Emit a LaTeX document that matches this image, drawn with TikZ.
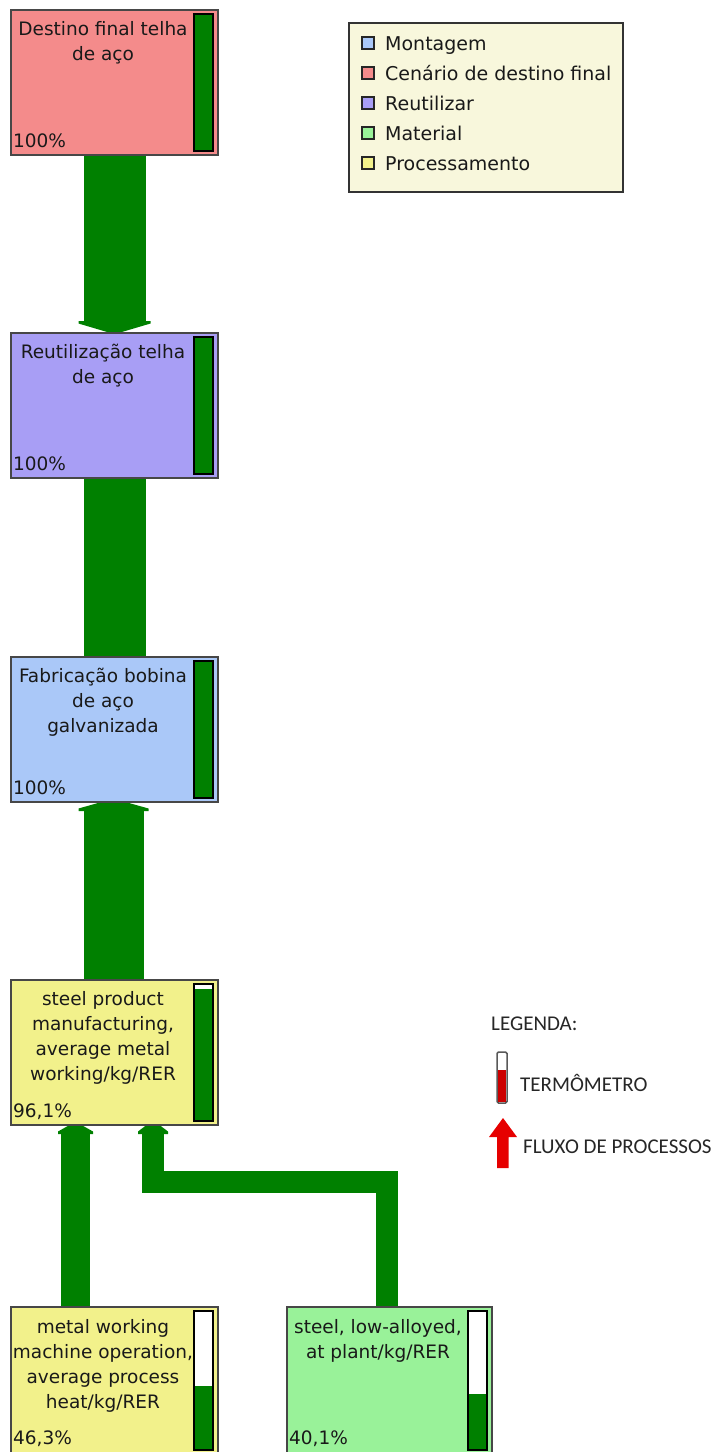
\documentclass[tikz,border=0pt]{standalone}
\usepackage{fontspec}
\setmainfont{DejaVu Sans}
\newfontfamily\notefont{Carlito}
\usetikzlibrary{calc}
\pgfdeclarelayer{paper}
\pgfdeclarelayer{flows}
\pgfsetlayers{paper,flows,main}

\definecolor{flowgreen}{RGB}{0,128,0}
\definecolor{cMont}{RGB}{170,200,248}
\definecolor{cDest}{RGB}{244,139,139}
\definecolor{cReu}{RGB}{168,158,245}
\definecolor{cMat}{RGB}{153,242,153}
\definecolor{cProc}{RGB}{242,241,139}
\definecolor{legendbg}{RGB}{248,247,220}
\definecolor{legred}{RGB}{230,0,0}
\definecolor{thermred}{RGB}{204,0,0}

% process flow arrow head: tip point, direction (1 down / -1 up),
% half width, length, half width of the blunt tip
\newcommand\flowhead[5]{%
  \fill[flowgreen,shift={#1},yscale=#2]
    (-#3,-#4) -- (#3,-#4) -- (#3,-#4+2.5) -- (#5,0) -- (-#5,0) -- (-#3,-#4+2.5) -- cycle;}

% thermometer bar inside a process box: node name, filled fraction
\newcommand\thermo[2]{%
  \path ([xshift=-24pt,yshift=-4pt]#1.north east) coordinate (#1-tt)
        ([xshift=-5pt,yshift=4pt]#1.south east) coordinate (#1-tb);
  \fill[white] (#1-tt) rectangle (#1-tb);
  \fill[flowgreen] (#1-tt |- #1-tb) rectangle ($(#1-tb)!#2!(#1-tb |- #1-tt)$);
  \draw[thermoframe] (#1-tt) rectangle (#1-tb);}

\begin{document}
\begin{tikzpicture}[x=1pt,y=-1pt,
  procbox/.style={draw=black!72, line width=1.6pt, anchor=north west,
    minimum width=207pt, minimum height=145pt, inner sep=0pt, outer sep=0pt},
  ptext/.style={anchor=north, align=center, inner sep=0pt,
    font=\fontsize{18.5}{25}\selectfont, text=black!90},
  pct/.style={anchor=base west, inner sep=0pt,
    font=\fontsize{18.5}{25}\selectfont, text=black!90},
  thermoframe/.style={draw=black, line width=1.6pt},
  flow/.style={draw=flowgreen, line width=#1},
  legbox/.style={anchor=north west, minimum width=274pt, minimum height=169pt,
    fill=legendbg, draw=black!80, line width=1.6pt, inner sep=0pt},
  legsq/.style={minimum size=12pt, inner sep=0pt, draw=black!85, line width=1.3pt},
  legtxt/.style={anchor=base west, inner sep=0pt,
    font=\fontsize{19}{23}\selectfont, text=black!90},
  note/.style={anchor=base west, inner sep=0pt,
    font=\notefont\fontsize{21}{24}\selectfont, text=black!85}]

\useasboundingbox (0,0) rectangle (725,1452);
\begin{pgfonlayer}{paper}
  \fill[white] (0,0) rectangle (725,1452);
\end{pgfonlayer}
\clip (0,0) rectangle (725,1452);

% process boxes
\node[procbox, fill=cDest] (n1) at (11,10) {};
\node[procbox, fill=cReu]  (n2) at (11,333) {};
\node[procbox, fill=cMont] (n3) at (11,657) {};
\node[procbox, fill=cProc] (n4) at (11,980) {};
\node[procbox, fill=cProc, minimum height=147pt] (n5) at (11,1307) {};
\node[procbox, fill=cMat, minimum width=205pt, minimum height=147pt] (n6) at (287,1307) {};

% box titles
\node[ptext] (n1-name) at ($(n1.north west)+(92,11)$) {Destino final telha\\de aço};
\node[ptext] (n2-name) at ($(n2.north west)+(92,11)$) {Reutilização telha\\de aço};
\node[ptext] (n3-name) at ($(n3.north west)+(92,11)$) {Fabricação bobina\\de aço\\galvanizada};
\node[ptext] (n4-name) at ($(n4.north west)+(92,11)$) {steel product\\manufacturing,\\average metal\\working/kg/RER};
\node[ptext] (n5-name) at ($(n5.north west)+(92,12)$) {metal working\\machine operation,\\average process\\heat/kg/RER};
\node[ptext] (n6-name) at ($(n6.north west)+(91,12)$) {steel, low-alloyed,\\at plant/kg/RER};

% shares
\node[pct] (n1-pct) at ([xshift=2pt,yshift=8pt]n1.south west) {100\%};
\node[pct] (n2-pct) at ([xshift=2pt,yshift=8pt]n2.south west) {100\%};
\node[pct] (n3-pct) at ([xshift=2pt,yshift=8pt]n3.south west) {100\%};
\node[pct] (n4-pct) at ([xshift=2pt,yshift=8pt]n4.south west) {96,1\%};
\node[pct] (n5-pct) at ([xshift=2pt,yshift=10pt]n5.south west) {46,3\%};
\node[pct] (n6-pct) at ([xshift=2pt,yshift=10pt]n6.south west) {40,1\%};

% thermometers
\thermo{n1}{1}
\thermo{n2}{1}
\thermo{n3}{1}
\thermo{n4}{0.961}
\thermo{n5}{0.463}
\thermo{n6}{0.401}

% process flows
\begin{pgfonlayer}{flows}
  \draw[flow=62pt, shorten >=11pt] (n1.south) -- (n2.north);
  \flowhead{(n2.north)}{1}{36}{12}{4}
  \draw[flow=62pt] (n2.south) -- (n3.north);
  \draw[flow=60pt, shorten >=8pt] ([xshift=-1pt]n4.north) -- ([xshift=-1pt]n3.south);
  \flowhead{([xshift=-1pt]n3.south)}{-1}{35}{9}{12}
  \draw[flow=29pt, shorten >=8pt] ([xshift=64.5pt]n5.north west) -- ([xshift=64.5pt]n4.south west);
  \flowhead{([xshift=64.5pt]n4.south west)}{-1}{17.5}{9}{6}
  \draw[flow=22pt, shorten >=8pt] ([xshift=-2.5pt]n6.north)
     |- ($(n4.south west)+(142,56.5)$) -- ([xshift=142pt]n4.south west);
  \flowhead{([xshift=142pt]n4.south west)}{-1}{15}{9}{6.5}
\end{pgfonlayer}

% category key
\node[legbox] (leg) at (348,22) {};
\node[legsq, fill=cMont] (k1) at (368,43) {};
\node[legsq, fill=cDest] (k2) at (368,73) {};
\node[legsq, fill=cReu]  (k3) at (368,103) {};
\node[legsq, fill=cMat]  (k4) at (368,133) {};
\node[legsq, fill=cProc] (k5) at (368,163) {};
\node[legtxt] (k1-t) at (385,50) {Montagem};
\node[legtxt] (k2-t) at (385,80) {Cenário de destino final};
\node[legtxt] (k3-t) at (385,110) {Reutilizar};
\node[legtxt] (k4-t) at (385,140) {Material};
\node[legtxt] (k5-t) at (385,170) {Processamento};

% symbol key
\node[note] (lg) at (491,1030) {LEGENDA:};
\draw[draw=black!65, line width=1.5pt, fill=white, rounded corners=1.5pt] (497,1052) rectangle (507,1103);
\fill[thermred] (498,1070) rectangle (506,1102);
\node[note] (lg-thermo) at (520,1091) {TERMÔMETRO};
\fill[legred] (503,1118) -- (517,1137) -- (508.5,1137) -- (508.5,1168)
  -- (497,1168) -- (497,1137) -- (489,1137) -- cycle;
\node[note] (lg-flow) at (523,1153) {FLUXO DE PROCESSOS};
\end{tikzpicture}
\end{document}
